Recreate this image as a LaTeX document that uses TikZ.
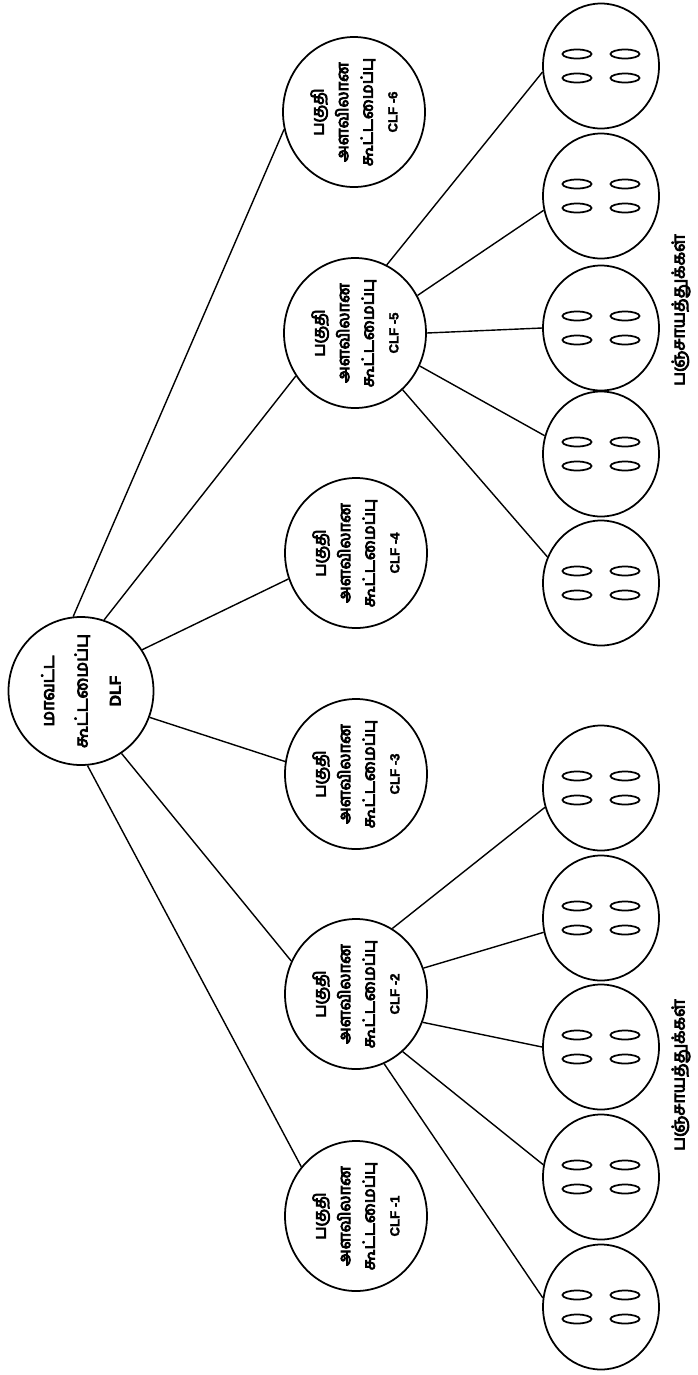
\documentclass[tikz,border=0pt]{standalone}
\usepackage{fontspec}
\newfontfamily\tamilfont[Script=Tamil, FakeBold=5]{Hind Madurai}
\newfontfamily\latinfont[FakeBold=2]{Liberation Sans}
\usetikzlibrary{shapes.geometric}
\tikzset{
    dlfnode/.style={
        draw, ellipse, rotate=90, inner xsep=-1.2mm, inner ysep=0pt,
        minimum width=29.6mm, minimum height=29mm, align=center,
        font=\tamilfont\fontsize{10}{19}\selectfont
    },
    clfnode/.style={
        draw, ellipse, rotate=90, inner xsep=-1.3mm, inner ysep=-0.6mm,
        minimum width=30mm, minimum height=28.4mm, align=center,
        font=\tamilfont\fontsize{9.5}{14}\selectfont
    },
    shgnode/.style={
        draw, ellipse, minimum width=23.2mm, minimum height=25mm,
        path picture={
            \foreach \dx/\dy in {-4.8/2.4, 4.8/2.4, -4.8/-2.4, 4.8/-2.4}
                \draw ([shift={(\dx mm,\dy mm)}]path picture bounding box.center)
                    ellipse [x radius=2.9mm, y radius=0.9mm];
        }
    },
    grouptext/.style={rotate=90, font=\tamilfont\fontsize{10}{12}\selectfont}
}
\newcommand{\clfname}[1]{{\latinfont\bfseries\fontsize{7.5}{8}\selectfont CLF -#1}}

\begin{document}
\begin{tikzpicture}[x=0.2mm, y=-0.2mm, line width=1pt]
	\useasboundingbox (0,0) rectangle (698,1375);
	% district level
	\node[dlfnode] (dlf) at (81,691) {மாவட்ட\\கூட்டமைப்பு\\{\latinfont\bfseries\fontsize{9}{9}\selectfont DLF}};
	% cluster level
	\node[clfnode] (clf1) at (356,1216) {பகுதி\\அளவிலான\\கூட்டமைப்பு\\\clfname{1}};
	\node[clfnode] (clf2) at (356,994) {பகுதி\\அளவிலான\\கூட்டமைப்பு\\\clfname{2}};
	\node[clfnode] (clf3) at (356,774) {பகுதி\\அளவிலான\\கூட்டமைப்பு\\\clfname{3}};
	\node[clfnode] (clf4) at (356,553) {பகுதி\\அளவிலான\\கூட்டமைப்பு\\\clfname{4}};
	\node[clfnode] (clf5) at (355,333) {பகுதி\\அளவிலான\\கூட்டமைப்பு\\\clfname{5}};
	\node[clfnode] (clf6) at (354,112) {பகுதி\\அளவிலான\\கூட்டமைப்பு\\\clfname{6}};
	% panchayats
	\node[shgnode] (p21) at (601,788) {};
	\node[shgnode] (p22) at (601,918) {};
	\node[shgnode] (p23) at (601,1047) {};
	\node[shgnode] (p24) at (601,1177) {};
	\node[shgnode] (p25) at (601,1307) {};
	\node[shgnode] (p51) at (601,66) {};
	\node[shgnode] (p52) at (601,196) {};
	\node[shgnode] (p53) at (601,328) {};
	\node[shgnode] (p54) at (601,454) {};
	\node[shgnode] (p55) at (601,583) {};
	\node[grouptext] (g2) at (681,1075) {பஞ்சாயத்துக்கள்};
	\node[grouptext] (g5) at (681,310) {பஞ்சாயத்துக்கள்};
	\draw[line width=0.8pt]
	(dlf.185) -- (clf1.48)
	(dlf.213) -- (clf2.63)
	(dlf.249) -- (clf3.80)
	(dlf.-56) -- (clf4.111)
	(dlf.-18) -- (clf5.126)
	(dlf.6) -- (clf6.104)
	(clf2.-29) -- (p21.199)
	(clf2.-69) -- (p22.194)
	(clf2.-113) -- (p23.180)
	(clf2.-141) -- (p24.168)
	(clf2.-158) -- (p25.171)
	(clf5.-25) -- (p51.186)
	(clf5.-59) -- (p52.194)
	(clf5.-90) -- (p53.180)
	(clf5.-117) -- (p54.162)
	(clf5.-140) -- (p55.154);
\end{tikzpicture}
\end{document}
